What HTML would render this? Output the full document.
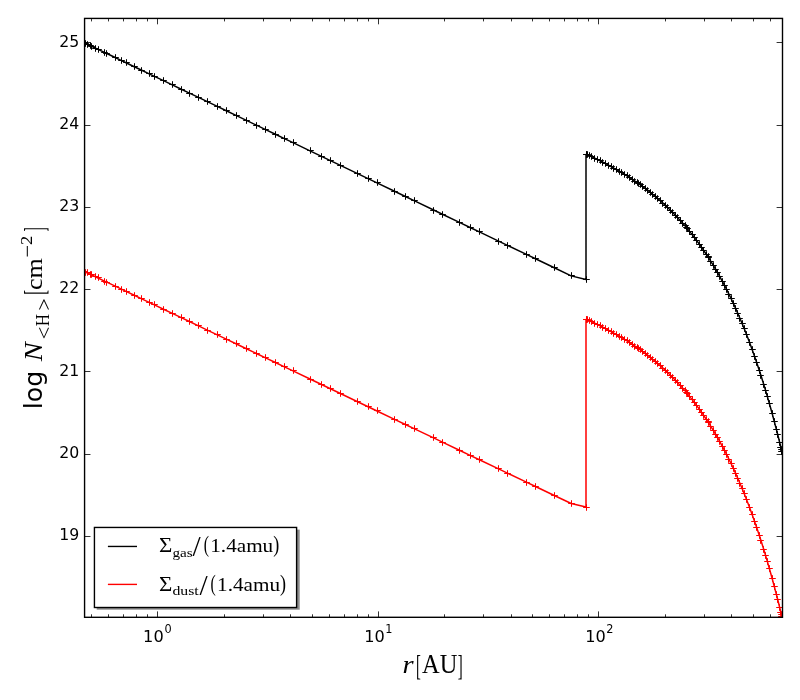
<!DOCTYPE html>
<html lang="en"><head><meta charset="utf-8"><title>Column density plot</title>
<style>html,body{margin:0;padding:0;background:#fff}svg{display:block}</style></head>
<body>
<svg width="800" height="700" viewBox="0 0 800 700">
<rect x="0" y="0" width="800" height="700" fill="#ffffff"/>
<defs><clipPath id="ax"><rect x="84.57" y="18.42" width="697.93" height="598.88"/></clipPath></defs>
<g clip-path="url(#ax)" fill="none">
<path d="M84.60 42.90 L85.50 43.33 L87.50 44.29 L90.00 45.49 L91.50 46.20 L95.50 48.12 L98.00 49.32 L104.50 52.43 L106.80 53.53 L115.20 57.55 L121.50 60.57 L126.00 62.72 L134.30 66.70 L141.20 70.00 L149.20 73.83 L154.40 76.32 L163.50 80.68 L172.30 84.89 L181.30 89.20 L189.40 93.08 L198.50 97.44 L207.30 101.65 L217.30 106.44 L226.30 110.75 L236.50 115.63 L246.40 120.37 L256.40 125.16 L265.60 129.56 L275.40 134.26 L284.40 138.56 L293.00 142.68 L310.00 150.82 L321.00 156.09 L330.40 160.59 L340.40 165.38 L357.60 173.61 L368.60 178.88 L377.00 182.90 L394.00 191.04 L405.40 196.50 L414.60 200.90 L433.60 210.00 L442.40 214.21 L459.40 222.35 L470.60 227.72 L479.40 231.93 L498.60 241.12 L507.40 245.34 L526.40 254.43 L535.50 258.79 L554.30 267.79 L571.20 275.88 L586.00 279.40 L586.00 154.40 L589.05 155.56 L591.84 156.86 L594.62 158.17 L597.38 159.51 L600.14 160.87 L602.88 162.26 L605.61 163.67 L608.33 165.10 L611.04 166.57 L613.74 168.06 L616.43 169.58 L619.11 171.13 L621.77 172.71 L624.43 174.32 L627.07 175.96 L629.71 177.64 L632.33 179.36 L634.94 181.11 L637.54 182.90 L640.13 184.72 L642.71 186.59 L645.28 188.50 L647.84 190.45 L650.39 192.45 L652.93 194.49 L655.46 196.58 L657.98 198.72 L660.48 200.90 L662.98 203.14 L665.47 205.43 L667.95 207.78 L670.41 210.18 L672.87 212.64 L675.32 215.16 L677.75 217.75 L680.18 220.39 L682.60 223.10 L685.00 225.88 L687.40 228.72 L689.79 231.64 L692.17 234.63 L694.54 237.69 L696.89 240.84 L699.24 244.06 L701.58 247.36 L703.91 250.74 L706.23 254.21 L708.54 257.77 L710.85 261.42 L713.14 265.16 L715.42 269.00 L717.69 272.94 L719.96 276.97 L722.21 281.11 L724.46 285.36 L726.70 289.71 L728.92 294.17 L731.14 298.75 L733.35 303.44 L735.55 308.26 L737.74 313.19 L739.92 318.26 L742.10 323.45 L744.26 328.77 L746.42 334.23 L749.40 342.04 L752.30 349.95 L754.60 356.45 L756.60 362.27 L759.40 370.69 L760.90 375.34 L763.70 384.28 L765.70 390.88 L767.40 396.63 L769.50 403.93 L772.10 413.26 L774.30 421.43 L776.50 429.85 L777.70 434.55 L779.80 442.98 L780.80 447.08 L781.30 449.15 L781.90 451.65" stroke="#000" stroke-width="1.5" stroke-linejoin="round"/>
<path d="M81.2 42.5h6.6M84.5 39.2v6.6M82.2 43.5h6.6M85.5 40.2v6.6M84.2 44.5h6.6M87.5 41.2v6.6M87.2 45.5h6.6M90.5 42.2v6.6M88.2 46.5h6.6M91.5 43.2v6.6M92.2 48.5h6.6M95.5 45.2v6.6M95.2 49.5h6.6M98.5 46.2v6.6M101.2 52.5h6.6M104.5 49.2v6.6M103.2 53.5h6.6M106.5 50.2v6.6M112.2 57.5h6.6M115.5 54.2v6.6M118.2 60.5h6.6M121.5 57.2v6.6M123.2 62.5h6.6M126.5 59.2v6.6M131.2 66.5h6.6M134.5 63.2v6.6M138.2 70.5h6.6M141.5 67.2v6.6M146.2 73.5h6.6M149.5 70.2v6.6M151.2 76.5h6.6M154.5 73.2v6.6M160.2 80.5h6.6M163.5 77.2v6.6M169.2 84.5h6.6M172.5 81.2v6.6M178.2 89.5h6.6M181.5 86.2v6.6M186.2 93.5h6.6M189.5 90.2v6.6M195.2 97.5h6.6M198.5 94.2v6.6M204.2 101.5h6.6M207.5 98.2v6.6M214.2 106.5h6.6M217.5 103.2v6.6M223.2 110.5h6.6M226.5 107.2v6.6M233.2 115.5h6.6M236.5 112.2v6.6M243.2 120.5h6.6M246.5 117.2v6.6M253.2 125.5h6.6M256.5 122.2v6.6M262.2 129.5h6.6M265.5 126.2v6.6M272.2 134.5h6.6M275.5 131.2v6.6M281.2 138.5h6.6M284.5 135.2v6.6M290.2 142.5h6.6M293.5 139.2v6.6M307.2 150.5h6.6M310.5 147.2v6.6M318.2 156.5h6.6M321.5 153.2v6.6M327.2 160.5h6.6M330.5 157.2v6.6M337.2 165.5h6.6M340.5 162.2v6.6M354.2 173.5h6.6M357.5 170.2v6.6M365.2 178.5h6.6M368.5 175.2v6.6M374.2 182.5h6.6M377.5 179.2v6.6M391.2 191.5h6.6M394.5 188.2v6.6M402.2 196.5h6.6M405.5 193.2v6.6M411.2 200.5h6.6M414.5 197.2v6.6M430.2 210.5h6.6M433.5 207.2v6.6M439.2 214.5h6.6M442.5 211.2v6.6M456.2 222.5h6.6M459.5 219.2v6.6M467.2 227.5h6.6M470.5 224.2v6.6M476.2 231.5h6.6M479.5 228.2v6.6M495.2 241.5h6.6M498.5 238.2v6.6M504.2 245.5h6.6M507.5 242.2v6.6M523.2 254.5h6.6M526.5 251.2v6.6M532.2 258.5h6.6M535.5 255.2v6.6M551.2 267.5h6.6M554.5 264.2v6.6M568.2 275.5h6.6M571.5 272.2v6.6M583.2 279.5h6.6M586.5 276.2v6.6M583.2 154.5h6.6M586.5 151.2v6.6M586.2 155.5h6.6M589.5 152.2v6.6M588.2 156.5h6.6M591.5 153.2v6.6M591.2 158.5h6.6M594.5 155.2v6.6M594.2 159.5h6.6M597.5 156.2v6.6M597.2 160.5h6.6M600.5 157.2v6.6M599.2 162.5h6.6M602.5 159.2v6.6M602.2 163.5h6.6M605.5 160.2v6.6M605.2 165.5h6.6M608.5 162.2v6.6M608.2 166.5h6.6M611.5 163.2v6.6M610.2 168.5h6.6M613.5 165.2v6.6M613.2 169.5h6.6M616.5 166.2v6.6M616.2 171.5h6.6M619.5 168.2v6.6M618.2 172.5h6.6M621.5 169.2v6.6M621.2 174.5h6.6M624.5 171.2v6.6M624.2 175.5h6.6M627.5 172.2v6.6M626.2 177.5h6.6M629.5 174.2v6.6M629.2 179.5h6.6M632.5 176.2v6.6M631.2 181.5h6.6M634.5 178.2v6.6M634.2 182.5h6.6M637.5 179.2v6.6M637.2 184.5h6.6M640.5 181.2v6.6M639.2 186.5h6.6M642.5 183.2v6.6M642.2 188.5h6.6M645.5 185.2v6.6M644.2 190.5h6.6M647.5 187.2v6.6M647.2 192.5h6.6M650.5 189.2v6.6M649.2 194.5h6.6M652.5 191.2v6.6M652.2 196.5h6.6M655.5 193.2v6.6M654.2 198.5h6.6M657.5 195.2v6.6M657.2 200.5h6.6M660.5 197.2v6.6M659.2 203.5h6.6M662.5 200.2v6.6M662.2 205.5h6.6M665.5 202.2v6.6M664.2 207.5h6.6M667.5 204.2v6.6M667.2 210.5h6.6M670.5 207.2v6.6M669.2 212.5h6.6M672.5 209.2v6.6M672.2 215.5h6.6M675.5 212.2v6.6M674.2 217.5h6.6M677.5 214.2v6.6M677.2 220.5h6.6M680.5 217.2v6.6M679.2 223.5h6.6M682.5 220.2v6.6M682.2 225.5h6.6M685.5 222.2v6.6M684.2 228.5h6.6M687.5 225.2v6.6M686.2 231.5h6.6M689.5 228.2v6.6M689.2 234.5h6.6M692.5 231.2v6.6M691.2 237.5h6.6M694.5 234.2v6.6M693.2 240.5h6.6M696.5 237.2v6.6M696.2 244.5h6.6M699.5 241.2v6.6M698.2 247.5h6.6M701.5 244.2v6.6M700.2 250.5h6.6M703.5 247.2v6.6M703.2 254.5h6.6M706.5 251.2v6.6M705.2 257.5h6.6M708.5 254.2v6.6M707.2 261.5h6.6M710.5 258.2v6.6M710.2 265.5h6.6M713.5 262.2v6.6M712.2 269.5h6.6M715.5 266.2v6.6M714.2 272.5h6.6M717.5 269.2v6.6M716.2 276.5h6.6M719.5 273.2v6.6M719.2 281.5h6.6M722.5 278.2v6.6M721.2 285.5h6.6M724.5 282.2v6.6M723.2 289.5h6.6M726.5 286.2v6.6M725.2 294.5h6.6M728.5 291.2v6.6M728.2 298.5h6.6M731.5 295.2v6.6M730.2 303.5h6.6M733.5 300.2v6.6M732.2 308.5h6.6M735.5 305.2v6.6M734.2 313.5h6.6M737.5 310.2v6.6M736.2 318.5h6.6M739.5 315.2v6.6M739.2 323.5h6.6M742.5 320.2v6.6M741.2 328.5h6.6M744.5 325.2v6.6M743.2 334.5h6.6M746.5 331.2v6.6M746.2 342.5h6.6M749.5 339.2v6.6M749.2 349.5h6.6M752.5 346.2v6.6M751.2 356.5h6.6M754.5 353.2v6.6M753.2 362.5h6.6M756.5 359.2v6.6M756.2 370.5h6.6M759.5 367.2v6.6M757.2 375.5h6.6M760.5 372.2v6.6M760.2 384.5h6.6M763.5 381.2v6.6M762.2 390.5h6.6M765.5 387.2v6.6M764.2 396.5h6.6M767.5 393.2v6.6M766.2 403.5h6.6M769.5 400.2v6.6M769.2 413.5h6.6M772.5 410.2v6.6M771.2 421.5h6.6M774.5 418.2v6.6M773.2 429.5h6.6M776.5 426.2v6.6M774.2 434.5h6.6M777.5 431.2v6.6M776.2 442.5h6.6M779.5 439.2v6.6M777.2 447.5h6.6M780.5 444.2v6.6M778.2 449.5h6.6M781.5 446.2v6.6M778.2 451.5h6.6M781.5 448.2v6.6M583.2 154.5h6.6M586.5 151.2v6.6M584.2 154.5h6.6M587.5 151.2v6.6M635.2 183.5h6.6M638.5 180.2v6.6M683.2 227.5h6.6M686.5 224.2v6.6M705.2 256.5h6.6M708.5 253.2v6.6" stroke="#000" stroke-width="1"/>
<path d="M84.60 271.60 L85.50 272.03 L87.50 272.98 L90.00 274.17 L91.50 274.89 L95.50 276.80 L98.00 277.99 L104.50 281.08 L106.80 282.18 L115.20 286.18 L121.50 289.19 L126.00 291.33 L134.30 295.29 L141.20 298.58 L149.20 302.39 L154.40 304.87 L163.50 309.20 L172.30 313.40 L181.30 317.69 L189.40 321.55 L198.50 325.89 L207.30 330.08 L217.30 334.85 L226.30 339.14 L236.50 344.00 L246.40 348.72 L256.40 353.48 L265.60 357.87 L275.40 362.54 L284.40 366.83 L293.00 370.92 L310.00 379.03 L321.00 384.27 L330.40 388.75 L340.40 393.52 L357.60 401.71 L368.60 406.96 L377.00 410.96 L394.00 419.06 L405.40 424.50 L414.60 428.88 L433.60 437.94 L442.40 442.13 L459.40 450.23 L470.60 455.57 L479.40 459.76 L498.60 468.92 L507.40 473.11 L526.40 482.16 L535.50 486.50 L554.30 495.46 L571.20 503.52 L586.00 507.00 L586.00 319.40 L589.05 320.56 L591.84 321.86 L594.62 323.17 L597.38 324.51 L600.14 325.87 L602.88 327.26 L605.61 328.67 L608.33 330.10 L611.04 331.57 L613.74 333.06 L616.43 334.58 L619.11 336.13 L621.77 337.71 L624.43 339.32 L627.07 340.96 L629.71 342.64 L632.33 344.36 L634.94 346.11 L637.54 347.90 L640.13 349.72 L642.71 351.59 L645.28 353.50 L647.84 355.45 L650.39 357.45 L652.93 359.49 L655.46 361.58 L657.98 363.72 L660.48 365.90 L662.98 368.14 L665.47 370.43 L667.95 372.78 L670.41 375.18 L672.87 377.64 L675.32 380.16 L677.75 382.75 L680.18 385.39 L682.60 388.10 L685.00 390.88 L687.40 393.72 L689.79 396.64 L692.17 399.63 L694.54 402.69 L696.89 405.84 L699.24 409.06 L701.58 412.36 L703.91 415.74 L706.23 419.21 L708.54 422.77 L710.85 426.42 L713.14 430.16 L715.42 434.00 L717.69 437.94 L719.96 441.97 L722.21 446.11 L724.46 450.36 L726.70 454.71 L728.92 459.17 L731.14 463.75 L733.35 468.44 L735.55 473.26 L737.74 478.19 L739.92 483.26 L742.10 488.45 L744.26 493.77 L746.42 499.23 L749.40 507.04 L752.30 514.95 L754.60 521.45 L756.60 527.27 L759.40 535.69 L760.90 540.34 L763.70 549.28 L765.70 555.88 L767.40 561.63 L769.50 568.93 L772.10 578.26 L774.30 586.43 L776.50 594.85 L777.70 599.55 L779.80 607.98 L780.80 612.08 L781.30 614.15 L781.90 616.65" stroke="#f00" stroke-width="1.5" stroke-linejoin="round"/>
<path d="M81.2 271.5h6.6M84.5 268.2v6.6M82.2 272.5h6.6M85.5 269.2v6.6M84.2 272.5h6.6M87.5 269.2v6.6M87.2 274.5h6.6M90.5 271.2v6.6M88.2 274.5h6.6M91.5 271.2v6.6M92.2 276.5h6.6M95.5 273.2v6.6M95.2 277.5h6.6M98.5 274.2v6.6M101.2 281.5h6.6M104.5 278.2v6.6M103.2 282.5h6.6M106.5 279.2v6.6M112.2 286.5h6.6M115.5 283.2v6.6M118.2 289.5h6.6M121.5 286.2v6.6M123.2 291.5h6.6M126.5 288.2v6.6M131.2 295.5h6.6M134.5 292.2v6.6M138.2 298.5h6.6M141.5 295.2v6.6M146.2 302.5h6.6M149.5 299.2v6.6M151.2 304.5h6.6M154.5 301.2v6.6M160.2 309.5h6.6M163.5 306.2v6.6M169.2 313.5h6.6M172.5 310.2v6.6M178.2 317.5h6.6M181.5 314.2v6.6M186.2 321.5h6.6M189.5 318.2v6.6M195.2 325.5h6.6M198.5 322.2v6.6M204.2 330.5h6.6M207.5 327.2v6.6M214.2 334.5h6.6M217.5 331.2v6.6M223.2 339.5h6.6M226.5 336.2v6.6M233.2 343.5h6.6M236.5 340.2v6.6M243.2 348.5h6.6M246.5 345.2v6.6M253.2 353.5h6.6M256.5 350.2v6.6M262.2 357.5h6.6M265.5 354.2v6.6M272.2 362.5h6.6M275.5 359.2v6.6M281.2 366.5h6.6M284.5 363.2v6.6M290.2 370.5h6.6M293.5 367.2v6.6M307.2 379.5h6.6M310.5 376.2v6.6M318.2 384.5h6.6M321.5 381.2v6.6M327.2 388.5h6.6M330.5 385.2v6.6M337.2 393.5h6.6M340.5 390.2v6.6M354.2 401.5h6.6M357.5 398.2v6.6M365.2 406.5h6.6M368.5 403.2v6.6M374.2 410.5h6.6M377.5 407.2v6.6M391.2 419.5h6.6M394.5 416.2v6.6M402.2 424.5h6.6M405.5 421.2v6.6M411.2 428.5h6.6M414.5 425.2v6.6M430.2 437.5h6.6M433.5 434.2v6.6M439.2 442.5h6.6M442.5 439.2v6.6M456.2 450.5h6.6M459.5 447.2v6.6M467.2 455.5h6.6M470.5 452.2v6.6M476.2 459.5h6.6M479.5 456.2v6.6M495.2 468.5h6.6M498.5 465.2v6.6M504.2 473.5h6.6M507.5 470.2v6.6M523.2 482.5h6.6M526.5 479.2v6.6M532.2 486.5h6.6M535.5 483.2v6.6M551.2 495.5h6.6M554.5 492.2v6.6M568.2 503.5h6.6M571.5 500.2v6.6M583.2 507.5h6.6M586.5 504.2v6.6M583.2 319.5h6.6M586.5 316.2v6.6M586.2 320.5h6.6M589.5 317.2v6.6M588.2 321.5h6.6M591.5 318.2v6.6M591.2 323.5h6.6M594.5 320.2v6.6M594.2 324.5h6.6M597.5 321.2v6.6M597.2 325.5h6.6M600.5 322.2v6.6M599.2 327.5h6.6M602.5 324.2v6.6M602.2 328.5h6.6M605.5 325.2v6.6M605.2 330.5h6.6M608.5 327.2v6.6M608.2 331.5h6.6M611.5 328.2v6.6M610.2 333.5h6.6M613.5 330.2v6.6M613.2 334.5h6.6M616.5 331.2v6.6M616.2 336.5h6.6M619.5 333.2v6.6M618.2 337.5h6.6M621.5 334.2v6.6M621.2 339.5h6.6M624.5 336.2v6.6M624.2 340.5h6.6M627.5 337.2v6.6M626.2 342.5h6.6M629.5 339.2v6.6M629.2 344.5h6.6M632.5 341.2v6.6M631.2 346.5h6.6M634.5 343.2v6.6M634.2 347.5h6.6M637.5 344.2v6.6M637.2 349.5h6.6M640.5 346.2v6.6M639.2 351.5h6.6M642.5 348.2v6.6M642.2 353.5h6.6M645.5 350.2v6.6M644.2 355.5h6.6M647.5 352.2v6.6M647.2 357.5h6.6M650.5 354.2v6.6M649.2 359.5h6.6M652.5 356.2v6.6M652.2 361.5h6.6M655.5 358.2v6.6M654.2 363.5h6.6M657.5 360.2v6.6M657.2 365.5h6.6M660.5 362.2v6.6M659.2 368.5h6.6M662.5 365.2v6.6M662.2 370.5h6.6M665.5 367.2v6.6M664.2 372.5h6.6M667.5 369.2v6.6M667.2 375.5h6.6M670.5 372.2v6.6M669.2 377.5h6.6M672.5 374.2v6.6M672.2 380.5h6.6M675.5 377.2v6.6M674.2 382.5h6.6M677.5 379.2v6.6M677.2 385.5h6.6M680.5 382.2v6.6M679.2 388.5h6.6M682.5 385.2v6.6M682.2 390.5h6.6M685.5 387.2v6.6M684.2 393.5h6.6M687.5 390.2v6.6M686.2 396.5h6.6M689.5 393.2v6.6M689.2 399.5h6.6M692.5 396.2v6.6M691.2 402.5h6.6M694.5 399.2v6.6M693.2 405.5h6.6M696.5 402.2v6.6M696.2 409.5h6.6M699.5 406.2v6.6M698.2 412.5h6.6M701.5 409.2v6.6M700.2 415.5h6.6M703.5 412.2v6.6M703.2 419.5h6.6M706.5 416.2v6.6M705.2 422.5h6.6M708.5 419.2v6.6M707.2 426.5h6.6M710.5 423.2v6.6M710.2 430.5h6.6M713.5 427.2v6.6M712.2 434.5h6.6M715.5 431.2v6.6M714.2 437.5h6.6M717.5 434.2v6.6M716.2 441.5h6.6M719.5 438.2v6.6M719.2 446.5h6.6M722.5 443.2v6.6M721.2 450.5h6.6M724.5 447.2v6.6M723.2 454.5h6.6M726.5 451.2v6.6M725.2 459.5h6.6M728.5 456.2v6.6M728.2 463.5h6.6M731.5 460.2v6.6M730.2 468.5h6.6M733.5 465.2v6.6M732.2 473.5h6.6M735.5 470.2v6.6M734.2 478.5h6.6M737.5 475.2v6.6M736.2 483.5h6.6M739.5 480.2v6.6M739.2 488.5h6.6M742.5 485.2v6.6M741.2 493.5h6.6M744.5 490.2v6.6M743.2 499.5h6.6M746.5 496.2v6.6M746.2 507.5h6.6M749.5 504.2v6.6M749.2 514.5h6.6M752.5 511.2v6.6M751.2 521.5h6.6M754.5 518.2v6.6M753.2 527.5h6.6M756.5 524.2v6.6M756.2 535.5h6.6M759.5 532.2v6.6M757.2 540.5h6.6M760.5 537.2v6.6M760.2 549.5h6.6M763.5 546.2v6.6M762.2 555.5h6.6M765.5 552.2v6.6M764.2 561.5h6.6M767.5 558.2v6.6M766.2 568.5h6.6M769.5 565.2v6.6M769.2 578.5h6.6M772.5 575.2v6.6M771.2 586.5h6.6M774.5 583.2v6.6M773.2 594.5h6.6M776.5 591.2v6.6M774.2 599.5h6.6M777.5 596.2v6.6M776.2 607.5h6.6M779.5 604.2v6.6M777.2 612.5h6.6M780.5 609.2v6.6M778.2 614.5h6.6M781.5 611.2v6.6M778.2 616.5h6.6M781.5 613.2v6.6M583.2 319.5h6.6M586.5 316.2v6.6M584.2 319.5h6.6M587.5 316.2v6.6M635.2 348.5h6.6M638.5 345.2v6.6M683.2 392.5h6.6M686.5 389.2v6.6M705.2 421.5h6.6M708.5 418.2v6.6" stroke="#f00" stroke-width="1"/>
</g>
<path d="M157.50 617.30v-5.90M157.50 18.42v5.90M378.50 617.30v-5.90M378.50 18.42v5.90M598.50 617.30v-5.90M598.50 18.42v5.90M91.50 617.30v-3.00M91.50 18.42v3.00M108.50 617.30v-3.00M108.50 18.42v3.00M123.50 617.30v-3.00M123.50 18.42v3.00M136.50 617.30v-3.00M136.50 18.42v3.00M147.50 617.30v-3.00M147.50 18.42v3.00M224.50 617.30v-3.00M224.50 18.42v3.00M263.50 617.30v-3.00M263.50 18.42v3.00M290.50 617.30v-3.00M290.50 18.42v3.00M312.50 617.30v-3.00M312.50 18.42v3.00M329.50 617.30v-3.00M329.50 18.42v3.00M344.50 617.30v-3.00M344.50 18.42v3.00M357.50 617.30v-3.00M357.50 18.42v3.00M368.50 617.30v-3.00M368.50 18.42v3.00M444.50 617.30v-3.00M444.50 18.42v3.00M483.50 617.30v-3.00M483.50 18.42v3.00M511.50 617.30v-3.00M511.50 18.42v3.00M532.50 617.30v-3.00M532.50 18.42v3.00M549.50 617.30v-3.00M549.50 18.42v3.00M564.50 617.30v-3.00M564.50 18.42v3.00M577.50 617.30v-3.00M577.50 18.42v3.00M588.50 617.30v-3.00M588.50 18.42v3.00M665.50 617.30v-3.00M665.50 18.42v3.00M704.50 617.30v-3.00M704.50 18.42v3.00M731.50 617.30v-3.00M731.50 18.42v3.00M753.50 617.30v-3.00M753.50 18.42v3.00M770.50 617.30v-3.00M770.50 18.42v3.00M84.57 536.50h5.90M782.50 536.50h-5.90M84.57 454.50h5.90M782.50 454.50h-5.90M84.57 371.50h5.90M782.50 371.50h-5.90M84.57 289.50h5.90M782.50 289.50h-5.90M84.57 207.50h5.90M782.50 207.50h-5.90M84.57 125.50h5.90M782.50 125.50h-5.90M84.57 42.50h5.90M782.50 42.50h-5.90" stroke="#000" stroke-opacity="0.8" stroke-width="1" fill="none"/>
<rect x="84.57" y="18.42" width="697.93" height="598.88" fill="none" stroke="#000" stroke-width="1.39"/>
<g font-family="'DejaVu Sans', 'Liberation Sans', sans-serif" font-size="16.67px" fill="#000">
<text transform="translate(79.2 540.05) scale(0.945 1)" text-anchor="end">19</text>
<text transform="translate(79.2 457.80) scale(0.945 1)" text-anchor="end">20</text>
<text transform="translate(79.2 375.55) scale(0.945 1)" text-anchor="end">21</text>
<text transform="translate(79.2 293.30) scale(0.945 1)" text-anchor="end">22</text>
<text transform="translate(79.2 211.05) scale(0.945 1)" text-anchor="end">23</text>
<text transform="translate(79.2 128.80) scale(0.945 1)" text-anchor="end">24</text>
<text transform="translate(79.2 46.55) scale(0.945 1)" text-anchor="end">25</text>
<text transform="translate(143.10 642.1) scale(0.97 1)">10<tspan font-size="11.67px" dy="-9.2" dx="0.8">0</tspan></text>
<text transform="translate(364.30 642.1) scale(0.97 1)">10<tspan font-size="11.67px" dy="-9.2" dx="0.3">1</tspan></text>
<text transform="translate(585.30 642.1) scale(0.97 1)">10<tspan font-size="11.67px" dy="-9.2" dx="0.3">2</tspan></text>
</g>
<rect x="96.7" y="529.6" width="203.0" height="80.1" fill="#8c8c8c"/>
<rect x="94.43" y="527.45" width="202.17" height="80.05" fill="#fff" stroke="#000" stroke-width="1.39"/>
<path d="M107.9 546.45H137" stroke="#000" stroke-width="1.39"/>
<path d="M107.9 584.4H137" stroke="#f00" stroke-width="1.39"/>
<g fill="#000">
<text transform="translate(159.08 551.60) scale(1.1772 1.0425)" font-family="'Liberation Serif', 'DejaVu Serif', serif" font-size="19.44px">Σ</text>
<text transform="translate(172.43 556.71) scale(1.1157 0.8711)" font-family="'Liberation Serif', 'DejaVu Serif', serif" font-size="13.6px">gas</text>
<text transform="translate(192.60 556.23) scale(1.5181 1.5413)" font-family="'Liberation Serif', 'DejaVu Serif', serif" font-size="19.44px">/</text>
<text transform="translate(203.71 552.35) scale(0.8048 1.1885)" font-family="'Liberation Serif', 'DejaVu Serif', serif" font-size="19.44px">(</text>
<text transform="translate(210.24 551.50) scale(1.0903 1.0026)" font-family="'Liberation Serif', 'DejaVu Serif', serif" font-size="19.44px">1.4amu</text>
<text transform="translate(273.24 552.35) scale(0.9296 1.1885)" font-family="'Liberation Serif', 'DejaVu Serif', serif" font-size="19.44px">)</text>
<text transform="translate(159.08 590.70) scale(1.1772 1.0425)" font-family="'Liberation Serif', 'DejaVu Serif', serif" font-size="19.44px">Σ</text>
<text transform="translate(172.41 595.41) scale(1.1596 0.9003)" font-family="'Liberation Serif', 'DejaVu Serif', serif" font-size="13.6px">dust</text>
<text transform="translate(199.40 595.33) scale(1.5181 1.5413)" font-family="'Liberation Serif', 'DejaVu Serif', serif" font-size="19.44px">/</text>
<text transform="translate(210.51 591.45) scale(0.8048 1.1885)" font-family="'Liberation Serif', 'DejaVu Serif', serif" font-size="19.44px">(</text>
<text transform="translate(217.04 590.60) scale(1.0903 1.0026)" font-family="'Liberation Serif', 'DejaVu Serif', serif" font-size="19.44px">1.4amu</text>
<text transform="translate(280.04 591.45) scale(0.9296 1.1885)" font-family="'Liberation Serif', 'DejaVu Serif', serif" font-size="19.44px">)</text>
<text transform="translate(402.61 673.40) scale(1.1413 0.9910)" font-family="'Liberation Serif', 'DejaVu Serif', serif" font-size="25px" font-style="italic">r</text>
<text transform="translate(416.09 674.52) scale(0.5803 1.1615)" font-family="'Liberation Serif', 'DejaVu Serif', serif" font-size="25px">[</text>
<text transform="translate(422.10 673.08) scale(0.9766 1.0647)" font-family="'Liberation Serif', 'DejaVu Serif', serif" font-size="25px">AU</text>
<text transform="translate(457.63 674.52) scale(0.5973 1.1615)" font-family="'Liberation Serif', 'DejaVu Serif', serif" font-size="25px">]</text>
</g>
<g transform="translate(41.8 408) rotate(-90)" fill="#000">
<text transform="translate(-1.37 -0.08) scale(1.0128 0.9834)" font-family="'DejaVu Sans', 'Liberation Sans', sans-serif" font-size="25px">log</text>
<text transform="translate(46.64 0.10) scale(1.1384 1.0362)" font-family="'Liberation Serif', 'DejaVu Serif', serif" font-size="25px" font-style="italic">N</text>
<text transform="translate(68.43 8.77) scale(1.3044 1.2229)" font-family="'Liberation Serif', 'DejaVu Serif', serif" font-size="17.5px">&lt;</text>
<text transform="translate(81.74 7.10) scale(0.9642 1.0536)" font-family="'Liberation Serif', 'DejaVu Serif', serif" font-size="17.5px">H</text>
<text transform="translate(97.26 8.77) scale(1.2623 1.2229)" font-family="'Liberation Serif', 'DejaVu Serif', serif" font-size="17.5px">&gt;</text>
<text transform="translate(113.22 2.10) scale(0.5632 1.1947)" font-family="'Liberation Serif', 'DejaVu Serif', serif" font-size="25px">[</text>
<text transform="translate(117.88 -0.06) scale(1.0456 0.9200)" font-family="'Liberation Serif', 'DejaVu Serif', serif" font-size="25px">cm</text>
<text transform="translate(150.56 -7.73) scale(1.2678 1.1886)" font-family="'Liberation Serif', 'DejaVu Serif', serif" font-size="17.5px">−</text>
<text transform="translate(163.02 -10.10) scale(1.0565 0.9781)" font-family="'Liberation Serif', 'DejaVu Serif', serif" font-size="17.5px">2</text>
<text transform="translate(176.40 2.08) scale(0.5120 1.1994)" font-family="'Liberation Serif', 'DejaVu Serif', serif" font-size="25px">]</text>
</g>
</svg>
</body></html>
